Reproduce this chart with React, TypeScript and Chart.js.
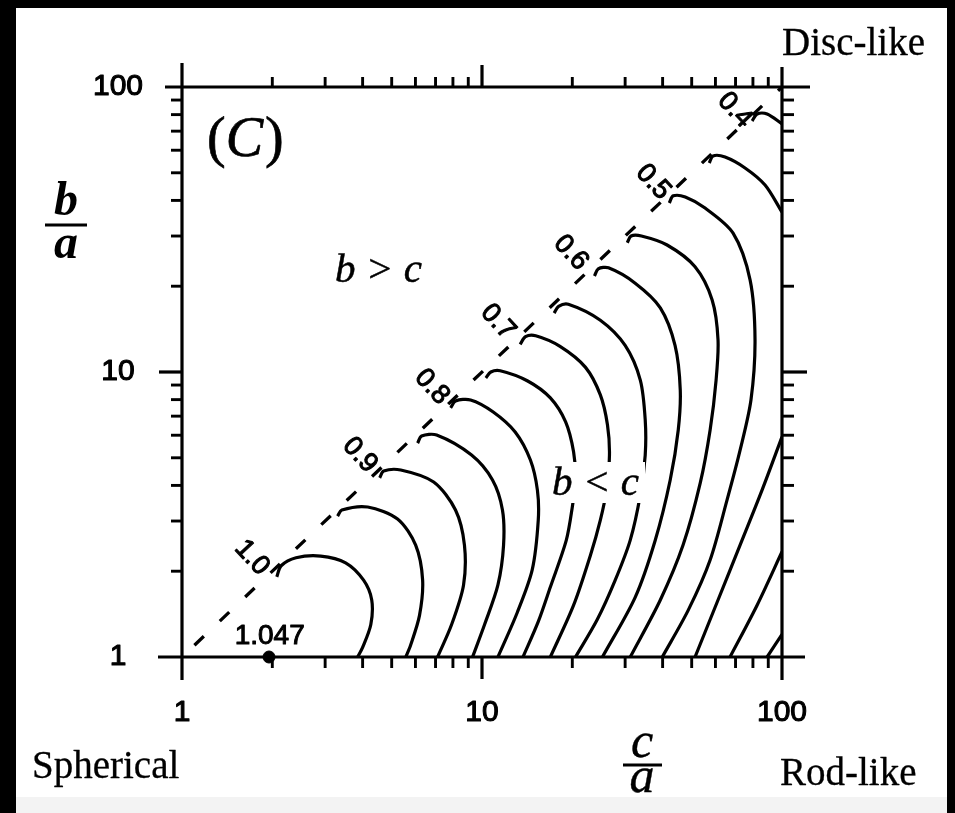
import React, { useEffect, useRef } from 'react';
import { Chart, registerables } from 'chart.js';

Chart.register(...registerables);

// axis ticks
const majorTicks = [1, 10, 100];
const majorTickLabels = ['1', '10', '100'];
const minorTicks = [2, 3, 4, 5, 6, 7, 8, 9, 20, 30, 40, 50, 60, 70, 80, 90];

// contour lines, points as [c/a, b/a]
const contour100 = [[2.07, 1.91], [2.14, 2.09], [2.40, 2.23], [2.90, 2.26], [3.51, 2.14], [4.03, 1.86], [4.29, 1.585], [4.26, 1.30], [4.00, 1.08], [3.85, 1.0]];
const contour095 = [[3.30, 3.12], [3.41, 3.28], [4.16, 3.36], [5.23, 3.05], [6.01, 2.47], [6.34, 1.86], [6.19, 1.40], [5.78, 1.10], [5.57, 1.0]];
const contour090 = [[4.56, 4.25], [4.70, 4.49], [5.36, 4.53], [6.90, 4.11], [8.16, 3.28], [8.74, 2.47], [8.68, 1.79], [7.92, 1.30], [7.11, 1.0]];
const contour085 = [[6.10, 5.63], [6.29, 5.96], [7.06, 6.01], [9.23, 5.11], [10.84, 4.18], [11.7, 3.28], [11.8, 2.47], [11.3, 1.79], [10.2, 1.30], [9.30, 1.0]];
const contour080 = [[7.86, 7.48], [8.16, 7.91], [9.16, 7.98], [10.9, 7.24], [12.9, 6.16], [14.5, 4.91], [15.3, 3.85], [15.4, 3.02], [14.7, 2.02], [13.1, 1.43], [11.3, 1.0]];
const contour075 = [[10.3, 9.53], [10.7, 10.0], [11.5, 10.1], [14.2, 9.30], [16.9, 8.11], [19.0, 6.68], [20.2, 5.24], [20.5, 4.18], [20.0, 3.36], [19.1, 2.57], [16.9, 1.76], [15.4, 1.33], [13.7, 1.0]];
const contour070 = [[13.4, 12.5], [13.96, 13.3], [15.1, 13.4], [18.2, 12.3], [22.1, 10.4], [24.8, 8.31], [26.2, 6.52], [26.6, 5.11], [26.0, 3.85], [24.8, 3.02], [23.0, 2.28], [20.2, 1.52], [16.9, 1.0]];
const contour065 = [[17.4, 16.1], [18.0, 17.0], [19.4, 17.3], [24.8, 15.2], [30.0, 12.4], [33.7, 9.37], [35.0, 6.79], [35.0, 5.11], [33.7, 3.70], [31.2, 2.57], [27.8, 1.86], [24.2, 1.35], [20.5, 1.0]];
const contour060 = [[23.7, 21.7], [24.4, 23.0], [26.4, 23.2], [32.4, 20.5], [39.3, 16.8], [44.0, 12.4], [45.8, 8.65], [45.1, 6.26], [42.4, 4.18], [37.8, 2.57], [32.4, 1.62], [25.2, 1.0]];
const contour055 = [[30.5, 28.4], [31.4, 30.0], [34.0, 30.0], [41.4, 27.9], [51.3, 23.4], [58.5, 17.9], [61.2, 12.95], [60.3, 9.37], [57.6, 6.26], [53.4, 4.08], [46.8, 2.47], [39.3, 1.585], [31.2, 1.0]];
const contour050 = [[42.1, 39.2], [43.4, 41.5], [47.6, 41.1], [55.4, 37.6], [68.7, 30.7], [78.3, 21.0], [81.3, 12.95], [78.8, 7.98], [72.5, 5.32], [65.6, 3.56], [57.6, 2.19], [48.7, 1.46], [39.9, 1.0]];
const contour045Upper = [[57.2, 54.1], [58.9, 57.3], [64.6, 56.8], [75.3, 52.0], [87.8, 45.3], [100, 36.4]];
const contour040Upper = [[79.5, 76.0], [82.6, 80.4], [89.2, 80.4], [100, 74.2]];
const contour045Lower = [[51.3, 1.0], [61.2, 1.585], [73.6, 2.57], [85.8, 3.85], [100, 5.92]];
const contour040Lower = [[67.1, 1.0], [82.6, 1.52], [100, 2.34]];
const contour035Lower = [[89.2, 1.0], [100, 1.20]];

const contours = [
  contour100, contour095, contour090, contour085, contour080, contour075, contour070,
  contour065, contour060, contour055, contour050, contour045Upper, contour040Upper,
  contour045Lower, contour040Lower, contour035Lower,
];

// b = c diagonal
const diagonalX = [1.1, 100];
const diagonalY = [1.1, 100];

// contour labels along the diagonal
const contourLabels = ['0.4', '0.5', '0.6', '0.7', '0.8', '0.9', '1.0'];
const contourLabelX = [69.7, 37.2, 19.8, 11.3, 6.81, 3.92, 1.71];
const contourLabelY = [83.0, 46.4, 26.2, 15.0, 8.86, 5.11, 2.23];

// maximum point
const maxPointX = [1.95];
const maxPointY = [1.0];
const maxPointLabel = '1.047';
const maxLabelX = 1.96;
const maxLabelY = 1.185;

const SANS = '"Liberation Sans", Arial, Helvetica, sans-serif';
const SERIF = '"Liberation Serif", "Times New Roman", Times, serif';

const paperPlugin = {
  id: 'paper',
  beforeDraw(chart: any) {
    const ctx = chart.ctx;
    ctx.save();
    ctx.fillStyle = '#ffffff';
    ctx.fillRect(0, 0, chart.width, chart.height);
    ctx.fillStyle = '#f3f3f3';
    ctx.fillRect(0, chart.height - 16, chart.width, 16);
    ctx.restore();
  },
  afterDatasetsDraw(chart: any) {
    const ctx = chart.ctx;
    const { left, right, top, bottom } = chart.chartArea;
    const xs = chart.scales.x;
    const ys = chart.scales.y;
    const line = (x1: number, y1: number, x2: number, y2: number) => {
      ctx.beginPath();
      ctx.moveTo(x1, y1);
      ctx.lineTo(x2, y2);
      ctx.stroke();
    };
    const text = (t: string, x: number, y: number, w = 0) => {
      ctx.fillText(t, x, y);
      if (w > 0) {
        ctx.save();
        ctx.lineWidth = w;
        ctx.lineJoin = 'round';
        ctx.strokeText(t, x, y);
        ctx.restore();
      }
    };
    ctx.save();
    ctx.strokeStyle = '#000';
    ctx.fillStyle = '#000';
    ctx.lineCap = 'butt';

    // axis frame, extended past the corners
    ctx.lineWidth = 3.2;
    line(left - 17, top, right + 28, top);
    line(left - 24, bottom, right + 23, bottom);
    line(left, top - 24, left, bottom + 23);
    line(right, top - 20, right, bottom + 23);

    // minor ticks (outward)
    ctx.lineWidth = 2.9;
    minorTicks.forEach((v) => {
      const px = xs.getPixelForValue(v);
      line(px, top, px, top - 10);
      line(px, bottom, px, bottom + 11);
      const py = ys.getPixelForValue(v);
      line(left, py, left - 11, py);
      line(right, py, right + 12, py);
    });
    // major ticks
    ctx.lineWidth = 3.2;
    majorTicks.forEach((v) => {
      if (v === 1 || v === 100) return;
      const px = xs.getPixelForValue(v);
      line(px, top, px, top - 22);
      line(px, bottom, px, bottom + 22);
      const py = ys.getPixelForValue(v);
      line(left, py, left - 23, py);
      line(right, py, right + 25, py);
    });

    // tick labels
    ctx.font = `30px ${SANS}`;
    ctx.textAlign = 'center';
    ctx.textBaseline = 'middle';
    majorTicks.forEach((v, i) => {
      text(majorTickLabels[i], xs.getPixelForValue(v), bottom + 56, 1.1);
      text(majorTickLabels[i], left - 64, ys.getPixelForValue(v), 1.1);
    });

    // contour labels, rotated across the diagonal
    ctx.font = `27px ${SANS}`;
    contourLabels.forEach((t, i) => {
      const px = xs.getPixelForValue(contourLabelX[i]);
      const py = ys.getPixelForValue(contourLabelY[i]);
      ctx.save();
      ctx.translate(px, py);
      ctx.rotate((47 * Math.PI) / 180);
      text(t, 0, 0, 1.1);
      ctx.restore();
    });
    ctx.font = `28px ${SANS}`;
    text(maxPointLabel, xs.getPixelForValue(maxLabelX), ys.getPixelForValue(maxLabelY), 1);

    // region labels
    ctx.textBaseline = 'alphabetic';
    ctx.textAlign = 'left';
    ctx.font = `italic 41px ${SERIF}`;
    text('b > c', left + 153, top + 195, 0.5);
    ctx.fillStyle = '#fff';
    ctx.fillRect(left + 366, top + 375, 97, 41);
    ctx.fillStyle = '#000';
    text('b < c', left + 370, top + 408, 0.5);

    // panel letter (C)
    let cx = left + 25;
    const cy = top + 69;
    ctx.font = `56px ${SERIF}`;
    text('(', cx, cy, 0.7);
    cx += ctx.measureText('(').width;
    ctx.font = `italic 56px ${SERIF}`;
    text('C', cx, cy, 0.7);
    cx += ctx.measureText('C').width + 2;
    ctx.font = `56px ${SERIF}`;
    text(')', cx, cy, 0.7);

    // corner descriptions
    ctx.font = `39px ${SERIF}`;
    text('Disc-like', right, top - 32, 0.3);
    text('Rod-like', right - 2, bottom + 128, 0.3);
    text('Spherical', 16, bottom + 121, 0.3);

    // axis titles as fractions
    ctx.textAlign = 'center';
    ctx.font = `bold italic 48px ${SERIF}`;
    const bx = 50;
    ctx.fillText('b', bx, 207);
    ctx.lineWidth = 3;
    line(bx - 21, 217, bx + 21, 217);
    ctx.fillText('a', bx, 250);

    ctx.font = `italic 50px ${SERIF}`;
    const ax = 626;
    text('c', ax, 749, 0.4);
    ctx.lineWidth = 3;
    line(ax - 19, 757, ax + 20, 757);
    text('a', ax, 784, 0.4);

    ctx.restore();
  },
};

export default function App() {
  const canvasRef = useRef<HTMLCanvasElement | null>(null);

  useEffect(() => {
    const canvas = canvasRef.current;
    if (!canvas) return;
    const datasets: any[] = contours.map((c) => ({
      data: c.map(([x, y]) => ({ x, y })),
      showLine: true,
      borderColor: '#000',
      borderWidth: 3.2,
      pointRadius: 0,
      tension: 0.3,
      fill: false,
    }));
    datasets.push({
      data: diagonalX.map((x, i) => ({ x, y: diagonalY[i] })),
      showLine: true,
      borderColor: '#000',
      borderWidth: 3.3,
      borderDash: [13, 22],
      pointRadius: 0,
      tension: 0,
    });
    datasets.push({
      data: maxPointX.map((x, i) => ({ x, y: maxPointY[i] })),
      showLine: false,
      pointRadius: 6,
      backgroundColor: '#000',
      borderColor: '#000',
      clip: false,
    });

    const chart = new Chart(canvas, {
      type: 'scatter',
      data: { datasets },
      options: {
        responsive: false,
        animation: false,
        events: [],
        devicePixelRatio: 1,
        layout: { padding: { left: 166, right: 165, top: 79, bottom: 156 } },
        scales: {
          x: { type: 'logarithmic', min: 1, max: 100, display: false },
          y: { type: 'logarithmic', min: 1, max: 100, display: false },
        },
        plugins: { legend: { display: false }, tooltip: { enabled: false } },
      },
      plugins: [paperPlugin],
    });
    return () => chart.destroy();
  }, []);

  return (
    <div style={{ position: 'fixed', left: 0, top: 0, width: 955, height: 813, background: '#000', overflow: 'hidden' }}>
      <canvas
        ref={canvasRef}
        width={931}
        height={805}
        style={{ position: 'absolute', left: 16, top: 8, width: 931, height: 805 }}
      />
    </div>
  );
}
